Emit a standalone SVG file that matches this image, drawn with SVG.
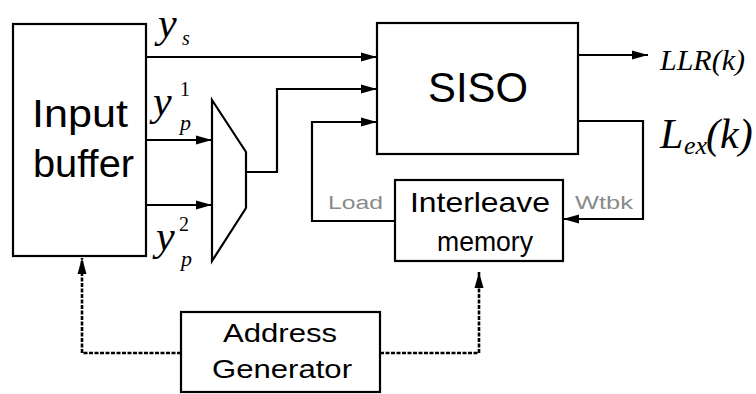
<svg xmlns="http://www.w3.org/2000/svg" width="756" height="394" viewBox="0 0 756 394">
<defs>
<style>
.box{fill:#fff;stroke:#000;stroke-width:2.2}
.ln{fill:none;stroke:#000;stroke-width:2.2}
.dl{fill:none;stroke:#000;stroke-width:2.6;stroke-dasharray:4 1.5}
.lbl{font-family:"Liberation Sans",Arial,sans-serif;fill:#000}
.gl{font-family:"Liberation Sans",Arial,sans-serif;fill:#8a8a8a;font-size:18px}
.m{font-family:"Liberation Serif","Times New Roman",serif;font-style:italic;fill:#000}
.up{font-family:"Liberation Serif","Times New Roman",serif;font-style:normal;fill:#000}
</style>
<marker id="ah" markerWidth="17" markerHeight="12" refX="16" refY="6" orient="auto" markerUnits="userSpaceOnUse">
<path d="M0,1.5 L16,6 L0,10.5 Z" fill="#000"/>
</marker>
</defs>

<g id="connectors">
<path class="ln" d="M146,57 H377" marker-end="url(#ah)"/>
<path class="ln" d="M146,140 H212" marker-end="url(#ah)"/>
<path class="ln" d="M146,205 H212" marker-end="url(#ah)"/>
<path class="ln" d="M246,172 H277 V89 H377" marker-end="url(#ah)"/>
<path class="ln" d="M395,221 H312 V122 H377" marker-end="url(#ah)"/>
<path class="ln" d="M578,121 H643 V219 H563" marker-end="url(#ah)"/>
<path class="ln" d="M578,55 H648" marker-end="url(#ah)"/>
<path class="dl" d="M181,353 H82 V258" marker-end="url(#ah)"/>
<path class="dl" d="M380,353 H479 V272" marker-end="url(#ah)"/>
</g>

<g id="input-buffer">
<rect class="box" x="13" y="24" width="133" height="232"/>
<text class="lbl" x="32" y="127" font-size="38" textLength="96" lengthAdjust="spacingAndGlyphs">Input</text>
<text class="lbl" x="33" y="177" font-size="38" textLength="101" lengthAdjust="spacingAndGlyphs">buffer</text>
</g>

<g id="mux">
<path class="ln" d="M212,100 L246,152 V208 L212,261 Z" fill="#fff"/>
</g>

<g id="siso">
<rect class="box" x="377" y="23" width="201" height="131"/>
<text class="lbl" x="428" y="102" font-size="42" textLength="100" lengthAdjust="spacingAndGlyphs">SISO</text>
</g>

<g id="interleave-memory">
<rect class="box" x="395" y="180" width="168" height="81"/>
<text class="lbl" x="410" y="212" font-size="28" textLength="140" lengthAdjust="spacingAndGlyphs">Interleave</text>
<text class="lbl" x="437" y="251" font-size="28" textLength="96" lengthAdjust="spacingAndGlyphs">memory</text>
</g>

<g id="address-generator">
<rect class="box" x="181" y="312" width="199" height="80"/>
<text class="lbl" x="223" y="342" font-size="26" textLength="114" lengthAdjust="spacingAndGlyphs">Address</text>
<text class="lbl" x="212" y="378" font-size="26" textLength="140" lengthAdjust="spacingAndGlyphs">Generator</text>
</g>

<g id="labels">
<text class="gl" x="328" y="209" textLength="55" lengthAdjust="spacingAndGlyphs">Load</text>
<text class="gl" x="575" y="209" textLength="58" lengthAdjust="spacingAndGlyphs">Wtbk</text>
<text class="m" x="158" y="37" font-size="42">y</text>
<text class="m" x="182" y="45" font-size="20">s</text>
<text class="m" x="153" y="115" font-size="42">y</text>
<text class="up" x="180" y="96" font-size="20">1</text>
<text class="m" x="180" y="130" font-size="22">p</text>
<text class="m" x="156" y="250" font-size="42">y</text>
<text class="up" x="179" y="231" font-size="20">2</text>
<text class="m" x="181" y="266" font-size="22">p</text>
<text class="m" x="660" y="70" font-size="30" fill="#333">LLR(k)</text>
<text class="m" x="660" y="148" font-size="42">L</text>
<text class="m" x="684" y="154" font-size="26">ex</text>
<text class="m" x="706" y="148" font-size="42">(k)</text>
</g>
</svg>
